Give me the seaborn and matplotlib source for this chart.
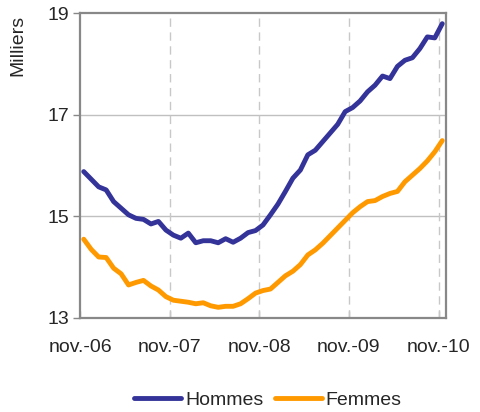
import pandas as pd
import numpy as np
import seaborn as sns
import matplotlib.pyplot as plt

# monthly values, nov-06 .. nov-10 (thousands)
hommes = [15.88, 15.73, 15.58, 15.52, 15.29, 15.16, 15.03, 14.96, 14.94, 14.85,
          14.90, 14.73, 14.63, 14.57, 14.67, 14.48, 14.52, 14.52, 14.48, 14.56,
          14.49, 14.57, 14.68, 14.72, 14.83, 15.03, 15.24, 15.49, 15.75, 15.91,
          16.21, 16.30, 16.47, 16.64, 16.81, 17.06, 17.14, 17.27, 17.45, 17.58,
          17.76, 17.71, 17.95, 18.07, 18.12, 18.30, 18.53, 18.51, 18.79]
femmes = [14.55, 14.35, 14.20, 14.19, 13.98, 13.87, 13.65, 13.70, 13.74, 13.63,
          13.55, 13.42, 13.35, 13.33, 13.31, 13.28, 13.30, 13.24, 13.21, 13.23,
          13.23, 13.28, 13.38, 13.49, 13.54, 13.57, 13.70, 13.83, 13.92, 14.05,
          14.24, 14.34, 14.47, 14.62, 14.77, 14.92, 15.07, 15.19, 15.29, 15.31,
          15.39, 15.45, 15.49, 15.68, 15.81, 15.94, 16.09, 16.27, 16.49]
tick_labels = ['nov.-06', 'nov.-07', 'nov.-08', 'nov.-09', 'nov.-10']
y_ticks = [13, 15, 17, 19]

months = np.arange(len(hommes)) + 0.5
df = pd.DataFrame({'mois': np.concatenate([months, months]),
                   'valeur': hommes + femmes,
                   'serie': ['Hommes'] * len(hommes) + ['Femmes'] * len(femmes)})

sns.set_style('white')
plt.rcParams['font.family'] = ['Liberation Sans', 'DejaVu Sans']

fig = plt.figure(figsize=(4.81, 4.12), dpi=100)
ax = fig.add_axes([80 / 481, 1 - 318 / 412, 366 / 481, 305 / 412])

sns.lineplot(data=df, x='mois', y='valeur', hue='serie',
             palette={'Hommes': '#333399', 'Femmes': '#FF9900'},
             linewidth=3.5, ax=ax, legend=False, zorder=3)

ax.set_xlim(0, 49)
ax.set_ylim(13, 19)
ax.set_yticks(y_ticks)
ax.set_xticks([0, 12, 24, 36, 48])
ax.set_xticklabels(tick_labels)
ax.set_xlabel('')
ax.set_ylabel('')

for y in [15, 17]:
    ax.axhline(y, color='#c0c0c0', lw=1, zorder=1)
for x in [12, 24, 36, 48]:
    ax.axvline(x, color='#c8c8c8', lw=1, ls=(0, (6, 4)), zorder=1)

for s in ax.spines.values():
    s.set_color('#888888')
    s.set_linewidth(1.6)

ax.tick_params(axis='y', direction='out', length=5, width=1, color='#888888',
               labelsize=14, pad=3, left=True)
ax.tick_params(axis='x', direction='in', length=5, width=1, color='#aaaaaa',
               labelsize=14, pad=15, bottom=True)

fig.text(18 / 481, 1 - 45 / 412, 'Milliers', rotation=90, fontsize=14,
         ha='center', va='center')

h1 = plt.Line2D([], [], color='#333399', lw=3.5)
h2 = plt.Line2D([], [], color='#FF9900', lw=3.5)
fig.legend([h1, h2], ['Hommes', 'Femmes'], loc='center',
           bbox_to_anchor=(268 / 481, 1 - 400 / 412), ncol=2, frameon=False,
           fontsize=14, handlelength=2.4, handletextpad=0.2, columnspacing=0.6)

fig.savefig('out.png', dpi=100)
